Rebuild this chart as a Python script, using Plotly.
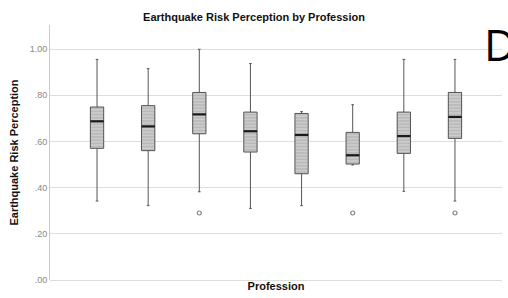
import plotly.graph_objects as go

# Data
groups = list(range(8))
q1 = [0.570, 0.560, 0.633, 0.554, 0.460, 0.502, 0.548, 0.613]
median = [0.687, 0.665, 0.717, 0.644, 0.628, 0.540, 0.623, 0.706]
q3 = [0.749, 0.755, 0.812, 0.727, 0.721, 0.639, 0.727, 0.812]
lower = [0.342, 0.322, 0.382, 0.310, 0.322, 0.498, 0.384, 0.342]
upper = [0.955, 0.915, 0.999, 0.937, 0.729, 0.759, 0.955, 0.955]
outlier_x = [2, 5, 7]
outlier_y = [0.290, 0.290, 0.290]

y_ticks = [0, 0.2, 0.4, 0.6, 0.8, 1.0]
y_tick_labels = [".00", ".20", ".40", ".60", ".80", "1.00"]

BW = 0.26
fig = go.Figure()

# Hatched box bodies
fig.add_trace(go.Bar(
    x=groups, base=q1, y=[b - a for a, b in zip(q1, q3)], width=BW,
    marker=dict(color="#bababa", line=dict(width=0),
                pattern=dict(shape="-", fgcolor="#f4f4f4", size=3.2, solidity=0.3,
                             fillmode="overlay")),
    hoverinfo="skip", showlegend=False))

# Box outlines and whiskers
fig.add_trace(go.Box(
    x=groups, q1=q1, median=median, q3=q3, lowerfence=lower, upperfence=upper,
    width=BW, whiskerwidth=0.2, fillcolor="rgba(0,0,0,0)",
    line=dict(color="#555555", width=1), boxpoints=False, showlegend=False))

# Thick median lines
mx, my = [], []
for g, m in zip(groups, median):
    mx += [g - BW / 2, g + BW / 2, None]
    my += [m, m, None]
fig.add_trace(go.Scatter(x=mx, y=my, mode="lines", line=dict(color="#1a1a1a", width=2.2),
                         hoverinfo="skip", showlegend=False))

# Outliers
fig.add_trace(go.Scatter(x=outlier_x, y=outlier_y, mode="markers",
                         marker=dict(symbol="circle-open", size=4, color="#808080",
                                     line=dict(width=1.2)),
                         showlegend=False))

fig.update_layout(
    width=508, height=298,
    margin=dict(l=50, r=6, t=25, b=18),
    plot_bgcolor="white", paper_bgcolor="white",
    font=dict(family="Liberation Sans, Arial", color="#222222"),
    title=dict(text="<b>Earthquake Risk Perception by Profession</b>",
               x=0.5, xanchor="center", y=0.943, yanchor="middle",
               font=dict(size=11, color="#111111")),
    bargap=0,
    xaxis=dict(range=[-0.92, 7.92], showticklabels=False, showgrid=False,
               zeroline=False, showline=False, ticks="",
               title=dict(text="<b>Profession</b>", font=dict(size=11, color="#111111"),
                          standoff=2)),
    yaxis=dict(range=[0, 1.104], tickvals=y_ticks, ticktext=y_tick_labels,
               tickfont=dict(size=9, color="#888888"), ticks="", ticklen=0,
               showgrid=True, gridcolor="#dddddd", gridwidth=1.2,
               zeroline=True, zerolinecolor="#dddddd", zerolinewidth=1.2,
               showline=True, linecolor="#cccccc", linewidth=1,
               title=dict(text="<b>Earthquake Risk Perception</b>",
                          font=dict(size=11, color="#111111"), standoff=8)),
    annotations=[dict(text="D", xref="paper", yref="paper", x=0.955, y=0.925,
                      xanchor="left", yanchor="middle", showarrow=False,
                      font=dict(size=44, color="#000000", family="Open Sans"))],
)

fig.write_html("out.html", config={"displayModeBar": False},
               post_script="document.body.style.margin='0';document.body.style.overflow='hidden';")
